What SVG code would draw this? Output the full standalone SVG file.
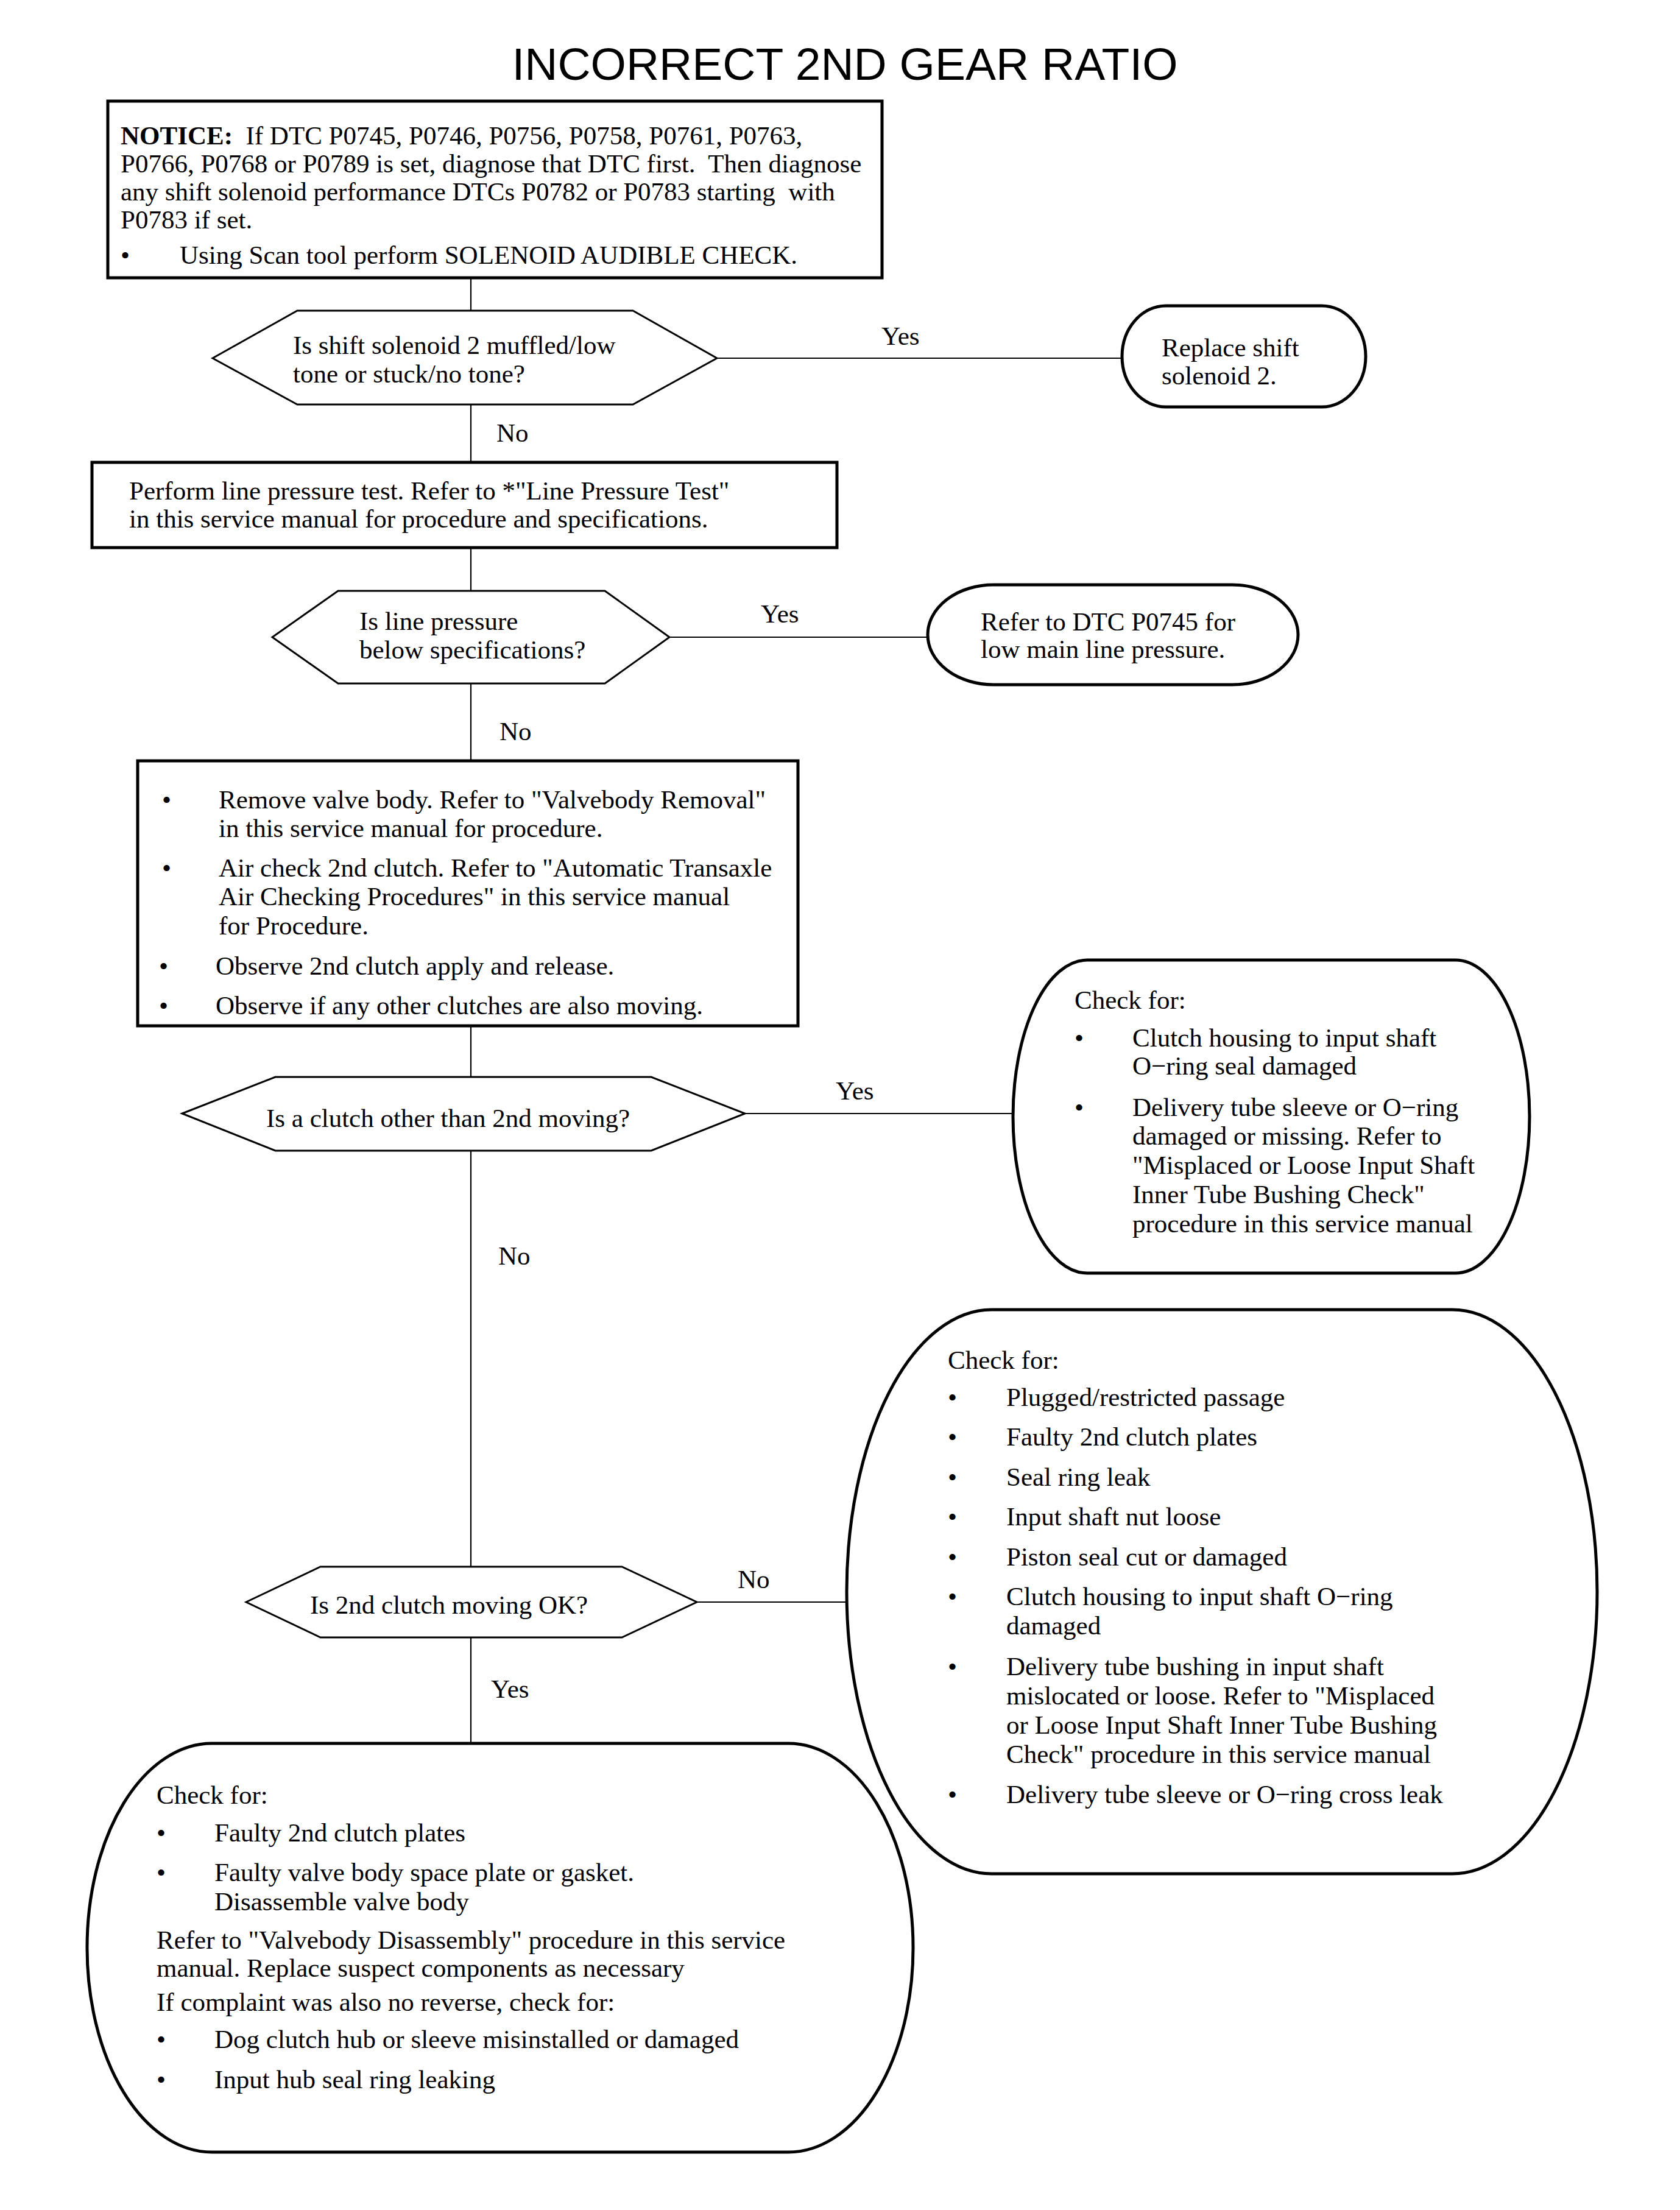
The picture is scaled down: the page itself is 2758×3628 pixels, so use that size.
<svg xmlns="http://www.w3.org/2000/svg" width="2758" height="3628" viewBox="0 0 2758 3628">
<style>
  .bg { fill: #ffffff; }
  .box { fill: #ffffff; stroke: #000000; stroke-width: 5; }
  .term { fill: #ffffff; stroke: #000000; stroke-width: 5; }
  .hex { fill: #ffffff; stroke: #000000; stroke-width: 3; stroke-linejoin: miter; }
  .conn { fill: none; stroke: #000000; stroke-width: 2.2; }
  .t { font-family: "Liberation Serif", "Times New Roman", serif; font-size: 43px; fill: #000000; }
  .title { font-family: "Liberation Sans", Arial, sans-serif; font-size: 75px; fill: #000000; }
  .b { font-weight: bold; }
</style>
<rect class="bg" x="0" y="0" width="2758" height="3628"/>

<text class="title" x="1387" y="131" text-anchor="middle">INCORRECT 2ND GEAR RATIO</text>

<g id="connectors">
  <path class="conn" d="M773 456 V2862"/>
  <path class="conn" d="M1177 588 H1842"/>
  <path class="conn" d="M1099 1046 H1523"/>
  <path class="conn" d="M1223 1828 H1663"/>
  <path class="conn" d="M1144 2630 H1390"/>
  <text class="t" x="1447" y="566">Yes</text>
  <text class="t" x="815" y="725">No</text>
  <text class="t" x="1249" y="1022">Yes</text>
  <text class="t" x="820" y="1215">No</text>
  <text class="t" x="1372" y="1805">Yes</text>
  <text class="t" x="818" y="2076">No</text>
  <text class="t" x="1211" y="2607">No</text>
  <text class="t" x="806" y="2787">Yes</text>
</g>

<g id="notice">
  <rect class="box" x="177" y="166" width="1271" height="290"/>
  <text class="t" x="198" y="237" xml:space="preserve"><tspan class="b">NOTICE:</tspan>  If DTC P0745, P0746, P0756, P0758, P0761, P0763,</text>
  <text class="t" x="198" y="283" xml:space="preserve">P0766, P0768 or P0789 is set, diagnose that DTC first.  Then diagnose</text>
  <text class="t" x="198" y="329" xml:space="preserve">any shift solenoid performance DTCs P0782 or P0783 starting  with</text>
  <text class="t" x="198" y="375">P0783 if set.</text>
  <text class="t" x="198" y="433">•</text>
  <text class="t" x="295" y="433">Using Scan tool perform SOLENOID AUDIBLE CHECK.</text>
</g>

<g id="q-solenoid">
  <polygon class="hex" points="349,588 488,510 1039,510 1177,588 1039,664 488,664"/>
  <text class="t" x="481" y="581">Is shift solenoid 2 muffled/low</text>
  <text class="t" x="481" y="628">tone or stuck/no tone?</text>
</g>

<g id="replace-solenoid">
  <rect class="term" x="1842" y="502" width="400" height="166" rx="72" ry="83"/>
  <text class="t" x="1907" y="585">Replace shift</text>
  <text class="t" x="1907" y="631">solenoid 2.</text>
</g>

<g id="line-pressure-test">
  <rect class="box" x="151" y="759" width="1223" height="140"/>
  <text class="t" x="212" y="820">Perform line pressure test. Refer to *"Line Pressure Test"</text>
  <text class="t" x="212" y="866">in this service manual for procedure and specifications.</text>
</g>

<g id="q-line-pressure">
  <polygon class="hex" points="447,1046 555,970 993,970 1099,1046 993,1122 555,1122"/>
  <text class="t" x="590" y="1034">Is line pressure</text>
  <text class="t" x="590" y="1081">below specifications?</text>
</g>

<g id="dtc-p0745">
  <rect class="term" x="1523" y="960" width="608" height="164" rx="108" ry="82"/>
  <text class="t" x="1610" y="1035">Refer to DTC P0745 for</text>
  <text class="t" x="1610" y="1080">low main line pressure.</text>
</g>

<g id="remove-valve-body">
  <rect class="box" x="226" y="1249" width="1084" height="435"/>
  <text class="t" x="266" y="1327">•</text>
  <text class="t" x="359" y="1327">Remove valve body. Refer to "Valvebody Removal"</text>
  <text class="t" x="359" y="1374">in this service manual for procedure.</text>
  <text class="t" x="266" y="1439">•</text>
  <text class="t" x="359" y="1439">Air check 2nd clutch. Refer to "Automatic Transaxle</text>
  <text class="t" x="359" y="1486">Air Checking Procedures" in this service manual</text>
  <text class="t" x="359" y="1534">for Procedure.</text>
  <text class="t" x="261" y="1600">•</text>
  <text class="t" x="354" y="1600">Observe 2nd clutch apply and release.</text>
  <text class="t" x="261" y="1665">•</text>
  <text class="t" x="354" y="1665">Observe if any other clutches are also moving.</text>
</g>

<g id="q-other-clutch">
  <polygon class="hex" points="299,1828 452,1768 1069,1768 1223,1828 1069,1889 452,1889"/>
  <text class="t" x="437" y="1850">Is a clutch other than 2nd moving?</text>
</g>

<g id="check-other-clutch">
  <rect class="term" x="1663" y="1576" width="848" height="514" rx="122" ry="257"/>
  <text class="t" x="1764" y="1656">Check for:</text>
  <text class="t" x="1764" y="1718">•</text>
  <text class="t" x="1859" y="1718">Clutch housing to input shaft</text>
  <text class="t" x="1859" y="1764">O−ring seal damaged</text>
  <text class="t" x="1764" y="1832">•</text>
  <text class="t" x="1859" y="1832">Delivery tube sleeve or O−ring</text>
  <text class="t" x="1859" y="1879">damaged or missing. Refer to</text>
  <text class="t" x="1859" y="1927">"Misplaced or Loose Input Shaft</text>
  <text class="t" x="1859" y="1975">Inner Tube Bushing Check"</text>
  <text class="t" x="1859" y="2023">procedure in this service manual</text>
</g>

<g id="q-2nd-clutch">
  <polygon class="hex" points="404,2630 526,2572 1021,2572 1144,2630 1021,2688 526,2688"/>
  <text class="t" x="509" y="2649">Is 2nd clutch moving OK?</text>
</g>

<g id="check-2nd-clutch-fault">
  <rect class="term" x="1390" y="2150" width="1232" height="926" rx="238" ry="463"/>
  <text class="t" x="1556" y="2247">Check for:</text>
  <text class="t" x="1556" y="2308">•</text>
  <text class="t" x="1652" y="2308">Plugged/restricted passage</text>
  <text class="t" x="1556" y="2373">•</text>
  <text class="t" x="1652" y="2373">Faulty 2nd clutch plates</text>
  <text class="t" x="1556" y="2439">•</text>
  <text class="t" x="1652" y="2439">Seal ring leak</text>
  <text class="t" x="1556" y="2504">•</text>
  <text class="t" x="1652" y="2504">Input shaft nut loose</text>
  <text class="t" x="1556" y="2570">•</text>
  <text class="t" x="1652" y="2570">Piston seal cut or damaged</text>
  <text class="t" x="1556" y="2635">•</text>
  <text class="t" x="1652" y="2635">Clutch housing to input shaft O−ring</text>
  <text class="t" x="1652" y="2683">damaged</text>
  <text class="t" x="1556" y="2750">•</text>
  <text class="t" x="1652" y="2750">Delivery tube bushing in input shaft</text>
  <text class="t" x="1652" y="2798">mislocated or loose. Refer to "Misplaced</text>
  <text class="t" x="1652" y="2846">or Loose Input Shaft Inner Tube Bushing</text>
  <text class="t" x="1652" y="2894">Check" procedure in this service manual</text>
  <text class="t" x="1556" y="2960">•</text>
  <text class="t" x="1652" y="2960">Delivery tube sleeve or O−ring cross leak</text>
</g>

<g id="check-2nd-clutch-ok">
  <rect class="term" x="143" y="2862" width="1356" height="671" rx="205" ry="335"/>
  <text class="t" x="257" y="2961">Check for:</text>
  <text class="t" x="257" y="3023">•</text>
  <text class="t" x="352" y="3023">Faulty 2nd clutch plates</text>
  <text class="t" x="257" y="3088">•</text>
  <text class="t" x="352" y="3088">Faulty valve body space plate or gasket.</text>
  <text class="t" x="352" y="3136">Disassemble valve body</text>
  <text class="t" x="257" y="3199">Refer to "Valvebody Disassembly" procedure in this service</text>
  <text class="t" x="257" y="3245">manual. Replace suspect components as necessary</text>
  <text class="t" x="257" y="3301">If complaint was also no reverse, check for:</text>
  <text class="t" x="257" y="3362">•</text>
  <text class="t" x="352" y="3362">Dog clutch hub or sleeve misinstalled or damaged</text>
  <text class="t" x="257" y="3428">•</text>
  <text class="t" x="352" y="3428">Input hub seal ring leaking</text>
</g>
</svg>
